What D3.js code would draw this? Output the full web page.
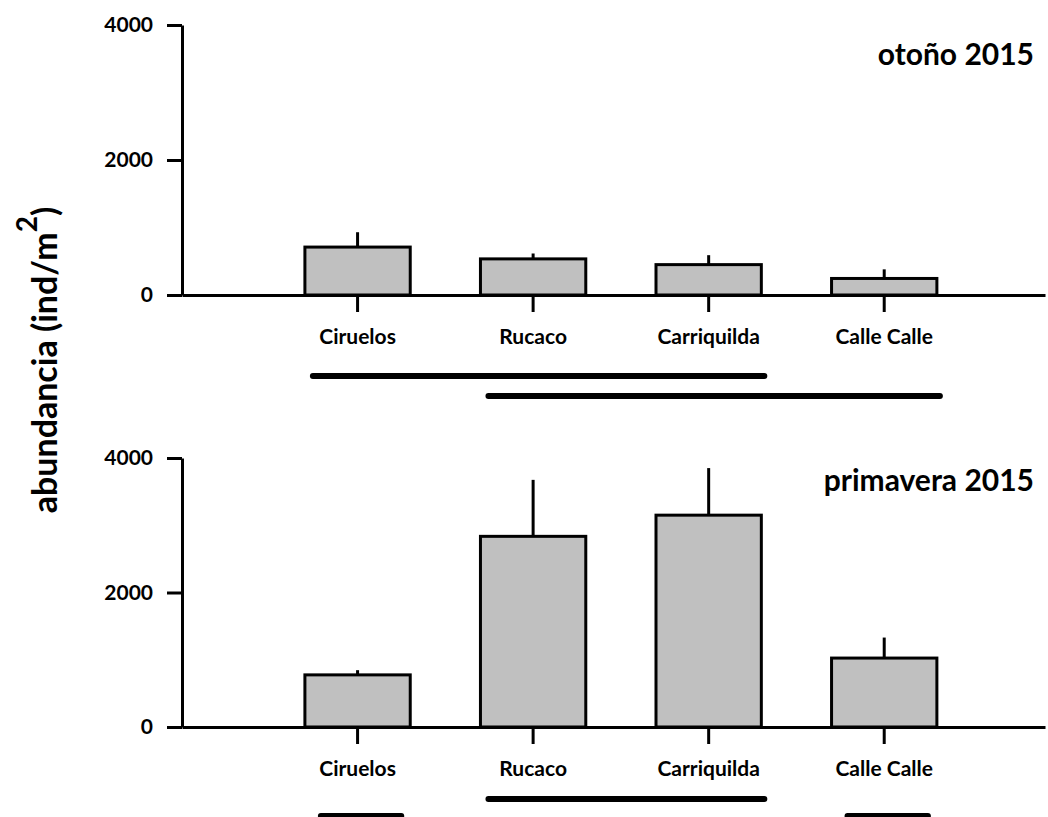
<!DOCTYPE html>
<html>
<head>
<meta charset="utf-8">
<script src="https://cdn.jsdelivr.net/npm/d3@7"></script>
<style>
  body { margin: 0; background: #fff; }
  text { font-family: Lato, "Open Sans", sans-serif; font-weight: bold; fill: #000; }
</style>
</head>
<body>
<script>
// Sites
const categories = ["Ciruelos", "Rucaco", "Carriquilda", "Calle Calle"];

// otoño 2015: mean abundance and top of error bar
const otonoMean = [710, 535, 450, 245];
const otonoUpper = [930, 615, 590, 380];

// primavera 2015
const primaveraMean = [775, 2835, 3150, 1025];
const primaveraUpper = [845, 3675, 3850, 1330];

const yTicks = [0, 2000, 4000];

// homogeneous groups (lines under the sites)
const otonoGroups = [["Ciruelos", "Carriquilda"], ["Rucaco", "Calle Calle"]];
const primaveraGroups = [["Rucaco", "Carriquilda"], ["Ciruelos", "Ciruelos"], ["Calle Calle", "Calle Calle"]];

const width = 1048;
const height = 817;

const svg = d3.select("body").append("svg")
    .attr("width", width)
    .attr("height", height);

// x scale shared by both panels
const x = d3.scaleBand()
    .domain(categories)
    .range([182, 1045])
    .paddingInner(0.4)
    .paddingOuter(0.658)
    .align(0.532);

const panels = [
    { title: "otoño 2015", mean: otonoMean, upper: otonoUpper, groups: otonoGroups,
      y0: 295, y1: 25, titleY: 65, groupY: [376, 396] },
    { title: "primavera 2015", mean: primaveraMean, upper: primaveraUpper, groups: primaveraGroups,
      y0: 727, y1: 458, titleY: 491, groupY: [799, 816, 816] }
];

panels.forEach(p => {
    const y = d3.scaleLinear().domain([0, 4000]).range([p.y0, p.y1]);
    const g = svg.append("g");

    // bars
    g.selectAll("rect.bar")
        .data(categories)
        .join("rect")
        .attr("class", "bar")
        .attr("x", d => x(d))
        .attr("width", x.bandwidth())
        .attr("y", (d, i) => y(p.mean[i]))
        .attr("height", (d, i) => y(0) - y(p.mean[i]))
        .attr("fill", "#c0c0c0")
        .attr("stroke", "#000")
        .attr("stroke-width", 3);

    // error bars (upward only)
    g.selectAll("line.err")
        .data(categories)
        .join("line")
        .attr("class", "err")
        .attr("x1", d => x(d) + x.bandwidth() / 2)
        .attr("x2", d => x(d) + x.bandwidth() / 2)
        .attr("y1", (d, i) => y(p.mean[i]))
        .attr("y2", (d, i) => y(p.upper[i]))
        .attr("stroke", "#000")
        .attr("stroke-width", 3);

    // y axis
    const yAxis = g.append("g")
        .attr("transform", `translate(${x.range()[0]},0)`)
        .call(d3.axisLeft(y).tickValues(yTicks).tickFormat(d3.format("d"))
            .tickSize(15).tickSizeOuter(0).tickPadding(14));
    yAxis.attr("font-family", null);
    yAxis.selectAll("path, line").attr("stroke", "#000").attr("stroke-width", 3);
    yAxis.selectAll("text").attr("font-size", 21).attr("fill", "#000");

    // x axis
    const xAxis = g.append("g")
        .attr("transform", `translate(0,${y(0)})`)
        .call(d3.axisBottom(x).tickSize(17).tickSizeOuter(0));
    xAxis.attr("font-family", null);
    xAxis.selectAll("path, line").attr("stroke", "#000").attr("stroke-width", 3);
    xAxis.selectAll("text")
        .attr("font-size", 21)
        .attr("fill", "#000")
        .attr("y", 49)
        .attr("dy", 0);

    // group lines
    g.selectAll("line.grp")
        .data(p.groups)
        .join("line")
        .attr("class", "grp")
        .attr("x1", d => x(d[0]) + (d[0] === d[1] ? 16 : 8))
        .attr("x2", d => x(d[1]) + x.bandwidth() - (d[0] === d[1] ? 9 : -3))
        .attr("y1", (d, i) => p.groupY[i])
        .attr("y2", (d, i) => p.groupY[i])
        .attr("stroke", "#000")
        .attr("stroke-width", 6)
        .attr("stroke-linecap", "round");

    // panel title
    g.append("text")
        .attr("x", 1034)
        .attr("y", p.titleY)
        .attr("text-anchor", "end")
        .attr("font-size", 30)
        .text(p.title);
});

// y axis title
const yLabel = svg.append("text")
    .attr("transform", "translate(57,360) rotate(-90)")
    .attr("text-anchor", "middle")
    .attr("font-size", 34);
yLabel.append("tspan").text("abundancia (ind/m");
yLabel.append("tspan").attr("font-size", 28).attr("dy", -20).text("2");
yLabel.append("tspan").attr("dy", 20).text(")");
</script>
</body>
</html>
